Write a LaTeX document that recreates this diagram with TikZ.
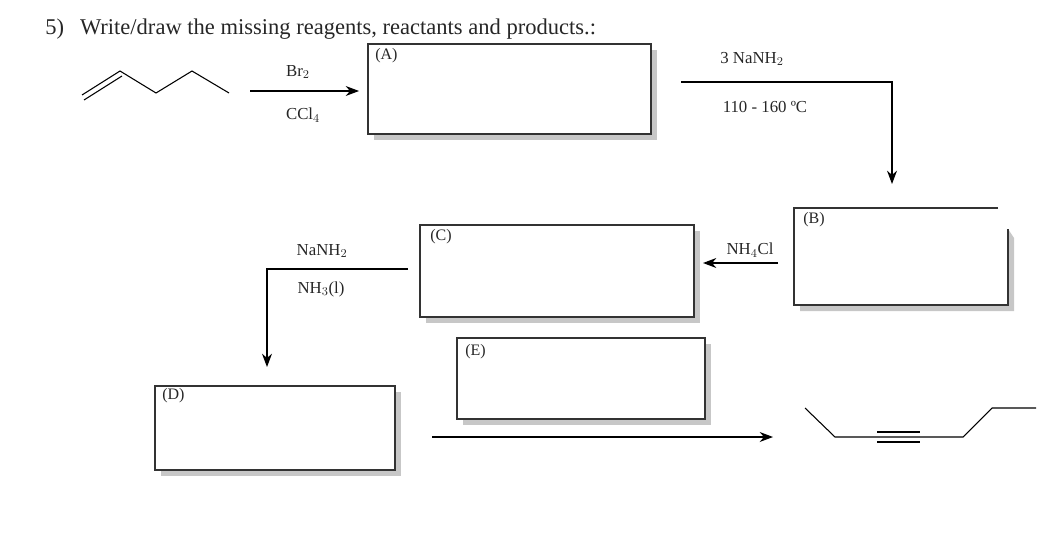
\documentclass[tikz,border=0pt]{standalone}
\usepackage{fontspec}
\setmainfont{Liberation Serif}
\usetikzlibrary{fit,shadows,arrows.meta}
\tikzstyle{box} = [draw=black!80, line width=0.8pt, fill=white, inner sep=0pt, drop shadow={shadow xshift=4.5pt, shadow yshift=-4.5pt, fill=black!22, opacity=1}]
\tikzstyle{tag} = [anchor=north west, font=\fontsize{12}{14}\selectfont, inner sep=0pt, text=black!85]
\tikzstyle{reagent} = [font=\fontsize{12.6}{14}\selectfont, inner sep=0pt, text=black!85]
\tikzstyle{bond} = [line width=0.8pt]
\tikzstyle{rxn} = [line width=0.8pt, -{Stealth[length=10pt,width=7.5pt]}]

\begin{document}
\begin{tikzpicture}[x=0.75pt,y=-0.75pt]
  \useasboundingbox (0,0) rectangle (1055,542);
  \node[anchor=base west, inner sep=0pt, font=\fontsize{16.9}{20}\selectfont, text=black!85](title) at (45,35){5)\hspace{12pt}Write/draw the missing reagents, reactants and products.:};
  % starting alkene
  \coordinate (s1) at (82,95);
  \coordinate (s2) at (120,71);
  \coordinate (s3) at (156,93);
  \coordinate (s4) at (192,71);
  \coordinate (s5) at (229,93);
  \coordinate (s1b) at (84,100);
  \coordinate (s2b) at (122,76);
  \draw[bond](s1)--(s2)--(s3)--(s4)--(s5);
  \draw[bond](s1b)--(s2b);
  % boxes
  \coordinate (a1) at (368,44);
  \coordinate (a2) at (651,134);
  \node[box,fit=(a1)(a2)](A){};
  \node[tag](Atag) at (375,48){(A)};
  \coordinate (c1) at (420,225);
  \coordinate (c2) at (694,317);
  \node[box,fit=(c1)(c2)](C){};
  \node[tag](Ctag) at (430,229){(C)};
  \coordinate (d1) at (155,386);
  \coordinate (d2) at (395,470);
  \node[box,fit=(d1)(d2)](D){};
  \node[tag](Dtag) at (162,388){(D)};
  \coordinate (e1) at (457,338);
  \coordinate (e2) at (705,419);
  \node[box,fit=(e1)(e2)](E){};
  \node[tag](Etag) at (465,344){(E)};
  % box B has a gap at its top right corner
  \coordinate (b1) at (794,208);
  \coordinate (b2) at (1008,305);
  \fill[black!22] (1008,229)--(1014,238)--(1014,311)--(800,311)--(800,305)--(1008,305)--cycle;
  \node[fit=(b1)(b2),inner sep=0pt](B){};
  \draw[draw=black!80,line width=0.8pt] (998,208)--(b1)--(794,305)--(b2)--(1008,229);
  \node[tag](Btag) at (803,212){(B)};
  % reagents
  \node[reagent](br) at (298,72){Br$_2$};
  \node[reagent](ccl) at (303,115){CCl$_4$};
  \node[reagent](amide) at (752,59){3 NaNH$_2$};
  \node[reagent](temp) at (765,107){110 - 160 ºC};
  \node[reagent](nhcl) at (750,250){NH$_4$Cl};
  \node[reagent](amideb) at (322,251){NaNH$_2$};
  \node[reagent](ammonia) at (321,289){NH$_3$(l)};
  % arrows
  \coordinate (r1) at (250,91);
  \coordinate (r2) at (359,91);
  \draw[rxn](r1)--(r2);
  \coordinate (r3) at (681,82);
  \coordinate (r4) at (892,82);
  \coordinate (r5) at (892,184);
  \draw[rxn](r3)--(r4)--(r5);
  \coordinate (r6) at (778,263);
  \coordinate (r7) at (703,263);
  \draw[rxn](r6)--(r7);
  \coordinate (r8) at (408,269);
  \coordinate (r9) at (267,269);
  \coordinate (r10) at (267,367);
  \draw[rxn](r8)--(r9)--(r10);
  \coordinate (r11) at (432,437);
  \coordinate (r12) at (773,437);
  \draw[rxn](r11)--(r12);
  % product alkyne
  \coordinate (p1) at (805,408);
  \coordinate (p2) at (835,437);
  \coordinate (p3) at (963,437);
  \coordinate (p4) at (992,408);
  \coordinate (p5) at (1036,408);
  \draw[bond](p1)--(p2)--(p3)--(p4)--(p5);
  \coordinate (t1) at (877,432);
  \coordinate (t2) at (920,432);
  \coordinate (t3) at (877,442);
  \coordinate (t4) at (920,442);
  \draw[bond](t1)--(t2);
  \draw[bond](t3)--(t4);
\end{tikzpicture}
\end{document}
